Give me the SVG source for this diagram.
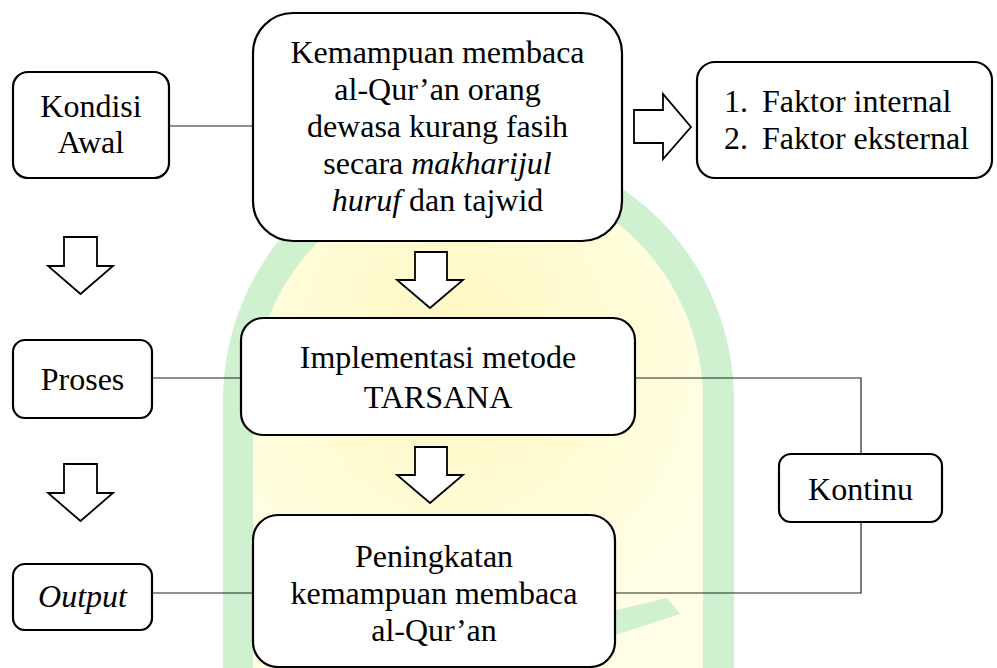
<svg xmlns="http://www.w3.org/2000/svg" width="997" height="668" viewBox="0 0 997 668">
<defs>
<style>
.box{fill:#fff;stroke:#000;stroke-width:2.2}
.arr{fill:#fff;stroke:#000;stroke-width:1.8;stroke-linejoin:miter}
.con{fill:none;stroke:#222;stroke-width:1.2}
.t{font-family:"Liberation Serif","Times New Roman",serif;font-size:32px;fill:#000}
.c{text-anchor:middle}
.i{font-style:italic}
</style>
<radialGradient id="yl" cx="0.45" cy="0.35" r="0.6">
<stop offset="0" stop-color="#fff7c2"/>
<stop offset="0.6" stop-color="#fffcd6"/>
<stop offset="1" stop-color="#fffee4"/>
</radialGradient>
</defs>
<rect width="997" height="668" fill="#fff"/>
<g id="watermark">
<path d="M223 668 V400 A255.5 255.5 0 0 1 734 400 V668 Z" fill="#d0f1d0"/>
<path d="M253 668 V400 A225 225 0 0 1 703 400 V668 Z" fill="url(#yl)"/>
<polygon points="600,614 667,598 680,614 600,640" fill="#d0f1d0"/>
</g>
<g id="connectors">
<line class="con" x1="169" y1="126" x2="253" y2="126"/>
<line class="con" x1="152" y1="378" x2="241" y2="378"/>
<line class="con" x1="152" y1="593" x2="253" y2="593"/>
<polyline class="con" points="635,378 861,378 861,454"/>
<polyline class="con" points="861,522 861,593 615,593"/>
<polygon class="arr" points="64,237 97,237 97,266 113,266 80.5,294 48,266 64,266"/>
<polygon class="arr" points="64,464 97,464 97,493 113,493 80.5,521 48,493 64,493"/>
<polygon class="arr" points="415,252 447,252 447,280 463,280 430,308 397,280 415,280"/>
<polygon class="arr" points="415,447 447,447 447,475 463,475 430,503 397,475 415,475"/>
<polygon class="arr" points="634,110 663,110 663,94 691,127 663,159 663,143 634,143"/>
</g>
<g id="kondisi">
<rect class="box" x="13" y="72" width="156" height="106" rx="15"/>
<text class="t c" x="91" y="117">Kondisi</text>
<text class="t c" x="91" y="153">Awal</text>
</g>
<g id="kemampuan">
<rect class="box" x="253" y="13" width="369" height="228" rx="40"/>
<text class="t c" x="437.5" y="63">Kemampuan membaca</text>
<text class="t c" x="437.5" y="100">al-Qur’an orang</text>
<text class="t c" x="437.5" y="137">dewasa kurang fasih</text>
<text class="t c" x="437.5" y="174">secara <tspan class="i">makharijul</tspan></text>
<text class="t c" x="437.5" y="211"><tspan class="i">huruf</tspan> dan tajwid</text>
</g>
<g id="faktor">
<rect class="box" x="697" y="62" width="295" height="116" rx="18"/>
<text class="t" x="724" y="112">1.</text>
<text class="t" x="762" y="112">Faktor internal</text>
<text class="t" x="724" y="149">2.</text>
<text class="t" x="762" y="149">Faktor eksternal</text>
</g>
<g id="proses">
<rect class="box" x="13" y="340" width="139" height="78" rx="12"/>
<text class="t c" x="82.5" y="390">Proses</text>
</g>
<g id="implementasi">
<rect class="box" x="241" y="318" width="394" height="117" rx="22"/>
<text class="t c" x="438" y="368">Implementasi metode</text>
<text class="t c" x="438" y="408">TARSANA</text>
</g>
<g id="output">
<rect class="box" x="13" y="564" width="139" height="66" rx="12"/>
<text class="t c i" x="82.5" y="607">Output</text>
</g>
<g id="peningkatan">
<rect class="box" x="253" y="515" width="362" height="152" rx="25"/>
<text class="t c" x="434" y="567">Peningkatan</text>
<text class="t c" x="434" y="604">kemampuan membaca</text>
<text class="t c" x="434" y="641">al-Qur’an</text>
</g>
<g id="kontinu">
<rect class="box" x="779" y="454" width="163" height="68" rx="12"/>
<text class="t c" x="860.5" y="500">Kontinu</text>
</g>
</svg>
